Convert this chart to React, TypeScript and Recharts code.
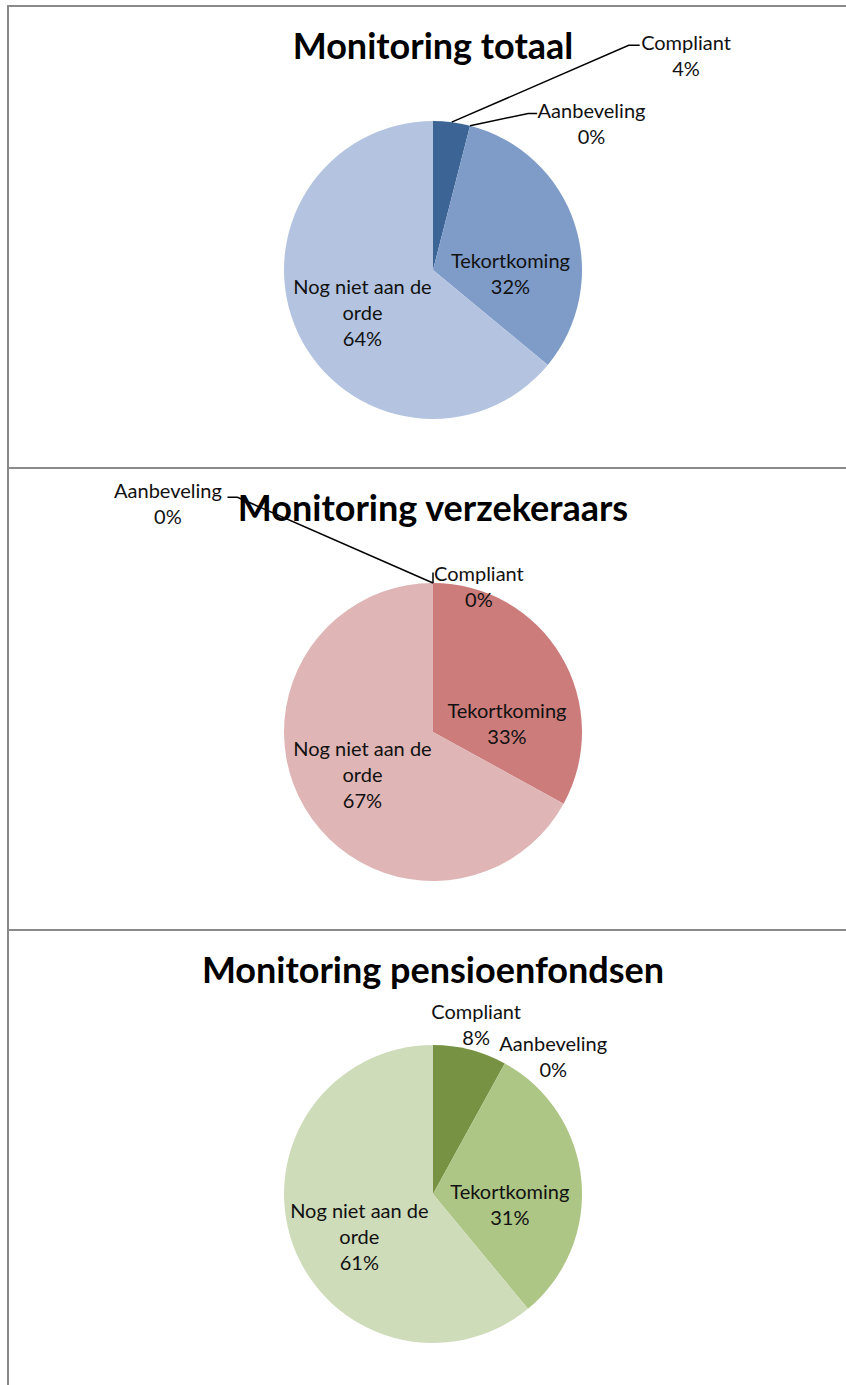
import { PieChart, Pie, Cell } from "recharts"

// categories and values per chart (percent of total)
const categories = ["Compliant", "Aanbeveling", "Tekortkoming", "Nog niet aan de orde"]
const totaalValues = [4, 0, 32, 64]
const verzekeraarsValues = [0, 0, 33, 67]
const pensioenValues = [8, 0, 31, 61]
const titles = ["Monitoring totaal", "Monitoring verzekeraars", "Monitoring pensioenfondsen"]

const palettes = [
  ["#3c6494", "#5b7fb4", "#7f9cc9", "#b4c4e0"],
  ["#b65654", "#c06a68", "#cb7c7b", "#dfb5b5"],
  ["#789244", "#93ae63", "#adc685", "#cfdcba"],
]

// where Excel put each data label: angle clockwise from 12 o'clock, distance in radii
type Spot = { angle: number; dist: number; leader?: { angle: number; dist: number; tick: number } }
const layouts: Record<string, Spot>[] = [
  {
    Compliant: { angle: 49.6, dist: 2.23, leader: { angle: 41.05, dist: 2.0, tick: 11 } },
    Aanbeveling: { angle: 47.2, dist: 1.45, leader: { angle: 31.3, dist: 1.23, tick: 9 } },
    Tekortkoming: { angle: 92.2, dist: 0.52 },
    "Nog niet aan de orde": { angle: 239.4, dist: 0.55 },
  },
  {
    Compliant: { angle: 17.4, dist: 1.03, leader: { angle: 0, dist: 1.07, tick: 0 } },
    Aanbeveling: { angle: 310.8, dist: 2.35, leader: { angle: 320.2, dist: 2.05, tick: -10 } },
    Tekortkoming: { angle: 83.1, dist: 0.5 },
    "Nog niet aan de orde": { angle: 239.4, dist: 0.55 },
  },
  {
    Compliant: { angle: 14.2, dist: 1.18 },
    Aanbeveling: { angle: 41, dist: 1.23 },
    Tekortkoming: { angle: 97.4, dist: 0.52 },
    "Nog niet aan de orde": { angle: 240.1, dist: 0.57 },
  },
]

const RAD = Math.PI / 180
const LINE = 26
const FONT = "Lato, 'Open Sans', sans-serif"

function wrap(name: string) {
  return name === "Nog niet aan de orde" ? ["Nog niet aan de", "orde"] : [name]
}

function makeLabel(layout: Record<string, Spot>) {
  return (props: any) => {
    const { cx, cy, outerRadius, midAngle, percent } = props
    const name = props.payload?.name ?? props.name
    const spot = layout[name]
    if (!spot) return null
    const pt = (a: number, f: number) => ({
      x: cx + outerRadius * f * Math.sin(a * RAD),
      y: cy - outerRadius * f * Math.cos(a * RAD),
    })
    const c = pt(spot.angle, spot.dist)
    const lines = [...wrap(name), `${Math.round(percent * 100)}%`]
    const top = c.y - ((lines.length - 1) * LINE) / 2
    let leader = null
    if (spot.leader) {
      const s = pt(90 - midAngle, 1)
      const e = pt(spot.leader.angle, spot.leader.dist)
      leader = (
        <polyline
          points={`${s.x},${s.y} ${e.x},${e.y} ${e.x + spot.leader.tick},${e.y}`}
          fill="none"
          stroke="#000"
          strokeWidth={1.5}
        />
      )
    }
    return (
      <g>
        {leader}
        {lines.map((t, i) => (
          <text
            key={i}
            x={c.x}
            y={top + i * LINE}
            textAnchor="middle"
            dominantBaseline="central"
            fontFamily={FONT}
            fontSize={20}
            fill="#111"
          >
            {t}
          </text>
        ))}
      </g>
    )
  }
}

const series = [totaalValues, verzekeraarsValues, pensioenValues]

function Panel({ index }: { index: number }) {
  const data = categories.map((name, i) => ({ name, value: series[index][i] }))
  return (
    <div
      style={{
        position: "absolute",
        left: 7,
        top: 5 + index * 462,
        width: 839,
        height: 464,
        borderTop: "2px solid #8a8a8a",
        borderLeft: "2px solid #8a8a8a",
        boxSizing: "border-box",
      }}
    >
      <PieChart width={837} height={460} margin={{ top: 0, right: 0, bottom: 0, left: 0 }}>
        <text
          x={424}
          y={52}
          textAnchor="middle"
          fontFamily={FONT}
          fontWeight="bold"
          fontSize={36}
          fill="#000"
        >
          {titles[index]}
        </text>
        <Pie
          data={data}
          dataKey="value"
          nameKey="name"
          cx={424}
          cy={263}
          outerRadius={149}
          startAngle={90}
          endAngle={-270}
          stroke="none"
          labelLine={false}
          label={makeLabel(layouts[index])}
          isAnimationActive={false}
        >
          {data.map((d, i) => (
            <Cell key={d.name} fill={palettes[index][i]} />
          ))}
        </Pie>
      </PieChart>
    </div>
  )
}

export default function App() {
  return (
    <div style={{ position: "relative", width: 846, height: 1385, overflow: "hidden", background: "#fff" }}>
      <style>{"body{margin:0;overflow:hidden}"}</style>
      {[0, 1, 2].map((i) => (
        <Panel key={i} index={i} />
      ))}
    </div>
  )
}
